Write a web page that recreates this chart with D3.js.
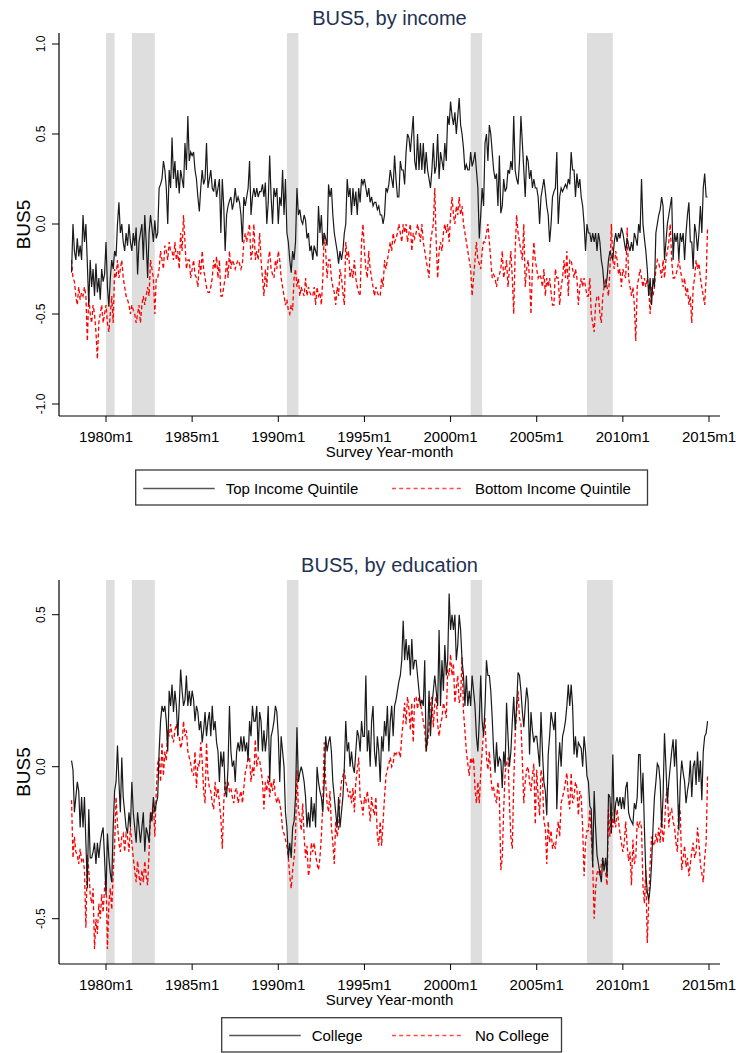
<!DOCTYPE html>
<html>
<head>
<meta charset="utf-8">
<script src="https://cdn.jsdelivr.net/npm/d3@7"></script>
<style>
  body { margin: 0; background: #fff; }
  svg text { font-family: "Liberation Sans", Arial, sans-serif; }
</style>
</head>
<body>
<svg id="chart" width="739" height="1053"></svg>
<script>
// monthly series, 1978m1 .. 2014m12 (one row per year)
const START_YEAR = 1978;

const topIncome = [
  -0.27, 0.00, -0.15, -0.20, -0.08, -0.18, -0.12, -0.20, 0.05, -0.10, 0.00, -0.22,
  -0.45, -0.20, -0.35, -0.25, -0.40, -0.22, -0.38, -0.30, -0.42, -0.25, -0.32, -0.28,
  -0.10, -0.35, -0.46, -0.30, -0.20, -0.25, -0.15, -0.18, 0.00, 0.12, -0.05, 0.00,
  -0.10, -0.15, -0.05, -0.12, 0.00, -0.10, -0.15, -0.05, -0.12, -0.02, -0.28, -0.10,
  -0.05, 0.00, -0.20, 0.05, -0.10, -0.30, -0.05, 0.05, -0.02, -0.10, 0.02, -0.08,
  -0.05, 0.20, 0.22, 0.25, 0.35, 0.30, 0.20, 0.00, 0.30, 0.20, 0.48, 0.25,
  0.35, 0.20, 0.30, 0.17, 0.30, 0.25, 0.20, 0.45, 0.30, 0.60, 0.35, 0.40,
  0.38, 0.40, 0.30, 0.25, 0.15, 0.07, 0.20, 0.30, 0.22, 0.25, 0.45, 0.20,
  0.25, 0.30, 0.20, 0.18, 0.25, 0.15, 0.20, 0.25, -0.05, 0.25, 0.10, -0.15,
  0.05, 0.10, 0.13, 0.15, 0.08, 0.12, 0.20, 0.12, 0.15, 0.12, 0.05, -0.10,
  0.15, 0.10, 0.15, 0.20, 0.35, 0.05, 0.15, 0.20, 0.15, 0.20, 0.15, 0.18,
  0.18, 0.22, 0.15, 0.23, 0.00, 0.12, 0.38, 0.15, 0.00, 0.20, 0.15, 0.20,
  0.00, 0.15, 0.10, 0.30, 0.05, 0.25, -0.05, -0.10, -0.20, -0.27, -0.15, -0.20,
  -0.10, 0.20, 0.05, 0.08, 0.02, 0.00, 0.05, 0.02, -0.08, -0.05, -0.15, -0.12,
  -0.20, -0.12, -0.15, -0.18, 0.10, -0.05, 0.05, -0.12, -0.05, -0.08, -0.12, 0.22,
  0.15, 0.20, 0.05, -0.05, -0.10, -0.15, -0.22, -0.15, -0.20, -0.15, -0.05, 0.00,
  0.25, 0.15, 0.20, 0.05, 0.20, 0.10, 0.18, 0.05, 0.20, 0.12, 0.25, 0.22,
  0.25, 0.20, 0.15, 0.20, 0.12, 0.15, 0.10, 0.12, 0.12, 0.08, 0.10, 0.05,
  0.05, 0.00, 0.05, 0.20, 0.18, 0.22, 0.30, 0.25, 0.20, 0.38, 0.25, 0.15,
  0.15, 0.35, 0.30, 0.30, 0.22, 0.40, 0.50, 0.48, 0.40, 0.50, 0.60, 0.35,
  0.30, 0.50, 0.30, 0.45, 0.30, 0.45, 0.28, 0.40, 0.30, 0.25, 0.20, 0.30,
  0.45, 0.28, 0.32, 0.50, 0.25, 0.40, 0.35, 0.30, 0.45, 0.35, 0.60, 0.55,
  0.68, 0.60, 0.55, 0.62, 0.50, 0.60, 0.70, 0.55, 0.50, 0.42, 0.30, 0.33,
  0.30, 0.30, 0.40, 0.32, 0.35, 0.40, 0.30, 0.20, -0.08, 0.05, 0.20, 0.10,
  0.45, 0.50, 0.35, 0.55, 0.50, 0.40, 0.30, 0.25, 0.28, 0.10, 0.38, 0.06,
  0.10, 0.25, 0.18, 0.20, 0.30, 0.28, 0.35, 0.30, 0.60, 0.30, 0.25, 0.22,
  0.35, 0.60, 0.45, 0.30, 0.15, 0.38, 0.35, 0.25, 0.30, 0.20, 0.25, 0.20,
  0.20, 0.15, 0.00, 0.15, 0.20, 0.25, 0.18, 0.10, 0.05, -0.10, 0.00, 0.15,
  0.18, 0.20, 0.40, 0.00, 0.15, 0.20, 0.18, 0.20, 0.22, 0.20, 0.25, 0.22,
  0.40, 0.30, 0.30, 0.15, 0.28, 0.20, 0.25, 0.15, 0.10, 0.00, -0.15, 0.00,
  -0.05, -0.05, -0.10, -0.05, -0.10, -0.05, -0.15, -0.05, -0.10, -0.20, -0.25, -0.35,
  -0.35, -0.30, -0.20, -0.15, -0.18, -0.20, -0.10, -0.05, -0.10, -0.05, -0.08, -0.02,
  -0.05, -0.10, -0.15, -0.08, -0.12, -0.15, -0.10, -0.15, -0.05, -0.08, -0.12, 0.00,
  -0.05, 0.25, 0.00, -0.08, -0.15, -0.25, -0.40, -0.30, -0.45, -0.30, -0.35, -0.05,
  0.00, 0.05, 0.08, 0.15, 0.10, -0.20, -0.10, 0.00, 0.05, 0.10, 0.15, -0.20,
  -0.05, -0.10, -0.05, -0.20, -0.05, -0.10, -0.05, -0.20, -0.05, 0.05, 0.12, -0.10,
  -0.10, -0.25, 0.00, -0.05, -0.15, -0.05, 0.10, -0.05, 0.20, 0.28, 0.15, 0.15
];

const bottomIncome = [
  -0.20, -0.30, -0.32, -0.40, -0.45, -0.35, -0.42, -0.38, -0.40, -0.35, -0.40, -0.65,
  -0.40, -0.50, -0.55, -0.45, -0.50, -0.60, -0.75, -0.55, -0.50, -0.45, -0.55, -0.50,
  -0.45, -0.55, -0.60, -0.50, -0.40, -0.55, -0.25, -0.30, -0.20, -0.30, -0.25, -0.20,
  -0.30, -0.35, -0.40, -0.42, -0.45, -0.50, -0.45, -0.48, -0.50, -0.55, -0.50, -0.45,
  -0.55, -0.45, -0.40, -0.45, -0.40, -0.35, -0.40, -0.20, -0.25, -0.30, -0.50, -0.30,
  -0.30, -0.25, -0.15, -0.20, -0.25, -0.12, -0.15, -0.20, -0.10, -0.15, -0.15, -0.20,
  -0.10, -0.20, -0.15, -0.25, -0.05, -0.15, 0.05, -0.10, -0.25, -0.20, -0.20, -0.30,
  -0.25, -0.20, -0.28, -0.30, -0.35, -0.20, -0.28, -0.15, -0.25, -0.30, -0.35, -0.38,
  -0.38, -0.35, -0.30, -0.20, -0.25, -0.18, -0.30, -0.20, -0.40, -0.40, -0.35, -0.30,
  -0.20, -0.30, -0.15, -0.25, -0.20, -0.22, -0.25, -0.22, -0.20, -0.22, -0.25, -0.22,
  -0.10, -0.05, -0.10, -0.05, 0.00, -0.20, -0.15, 0.00, -0.20, -0.15, -0.20, -0.05,
  -0.20, -0.30, -0.40, -0.25, -0.35, -0.20, -0.15, -0.25, -0.28, -0.30, -0.20, -0.25,
  -0.15, -0.20, -0.30, -0.35, -0.40, -0.45, -0.42, -0.48, -0.50, -0.45, -0.48, -0.30,
  -0.25, -0.35, -0.30, -0.40, -0.35, -0.38, -0.40, -0.30, -0.40, -0.35, -0.38, -0.40,
  -0.40, -0.35, -0.45, -0.35, -0.40, -0.38, -0.45, -0.30, -0.05, -0.15, -0.30, -0.20,
  -0.20, -0.30, -0.35, -0.38, -0.45, -0.35, -0.40, -0.25, -0.30, -0.38, -0.45, -0.10,
  -0.20, -0.15, -0.30, -0.25, -0.30, -0.20, -0.30, -0.35, -0.38, -0.40, -0.10, 0.00,
  -0.15, -0.25, -0.30, -0.15, -0.25, -0.30, -0.35, -0.40, -0.35, -0.38, -0.40, -0.40,
  -0.30, -0.35, -0.20, -0.25, -0.20, -0.15, -0.10, -0.15, -0.05, -0.10, -0.08, -0.05,
  0.00, -0.05, -0.10, 0.00, -0.05, 0.00, -0.10, -0.05, 0.00, -0.15, -0.05, -0.08,
  -0.05, 0.00, -0.05, -0.10, 0.00, -0.10, -0.15, -0.20, -0.25, -0.30, -0.10, -0.05,
  0.00, 0.20, -0.10, -0.30, -0.15, -0.10, -0.15, -0.05, 0.00, -0.05, 0.00, -0.10,
  0.05, 0.15, 0.05, 0.00, 0.10, 0.05, 0.15, 0.05, 0.10, 0.00, -0.05, -0.10,
  -0.15, -0.20, -0.25, -0.40, -0.30, -0.20, -0.10, -0.20, -0.22, -0.25, -0.15, -0.10,
  -0.10, -0.05, 0.00, -0.10, -0.20, -0.30, -0.28, -0.30, -0.35, -0.30, -0.28, -0.25,
  -0.15, -0.30, -0.25, -0.20, -0.35, -0.25, -0.15, -0.30, -0.50, -0.15, 0.05, -0.05,
  -0.10, -0.15, -0.20, 0.00, -0.35, -0.25, -0.20, -0.30, -0.50, -0.25, -0.10, -0.20,
  -0.25, -0.30, -0.28, -0.30, -0.35, -0.25, -0.40, -0.30, -0.35, -0.30, -0.38, -0.45,
  -0.45, -0.25, -0.30, -0.30, -0.45, -0.35, -0.30, -0.20, -0.30, -0.15, -0.40, -0.20,
  -0.20, -0.25, -0.30, -0.25, -0.30, -0.45, -0.35, -0.30, -0.35, -0.30, -0.35, -0.40,
  -0.40, -0.30, -0.50, -0.55, -0.60, -0.45, -0.40, -0.40, -0.50, -0.55, -0.40, -0.35,
  -0.30, -0.35, -0.40, -0.25, 0.00, -0.20, -0.25, -0.15, -0.20, -0.28, -0.25, -0.35,
  -0.25, -0.28, -0.30, -0.02, -0.30, -0.35, -0.40, -0.35, -0.45, -0.65, -0.35, -0.30,
  -0.25, -0.30, -0.35, -0.30, -0.35, -0.30, -0.35, -0.50, -0.35, -0.40, -0.35, -0.25,
  -0.20, -0.22, -0.25, -0.30, -0.20, -0.30, -0.20, -0.15, -0.10, 0.00, -0.20, -0.30,
  -0.30, -0.28, -0.25, -0.20, -0.25, -0.30, -0.35, -0.30, -0.40, -0.35, -0.45, -0.40,
  -0.55, -0.35, -0.30, -0.20, -0.25, -0.22, -0.30, -0.35, -0.40, -0.45, -0.30, -0.02
];

const college = [
  0.02, -0.01, -0.15, -0.10, -0.05, -0.08, -0.20, -0.10, -0.20, -0.10, -0.25, -0.40,
  -0.14, -0.30, -0.30, -0.28, -0.25, -0.32, -0.25, -0.30, -0.25, -0.22, -0.20, -0.30,
  -0.42, -0.22, -0.30, -0.35, -0.38, -0.20, -0.08, -0.05, 0.07, -0.05, -0.15, 0.03,
  -0.10, -0.15, -0.20, -0.22, -0.15, -0.20, -0.05, -0.15, -0.20, -0.25, -0.15, -0.20,
  -0.25, -0.20, -0.15, -0.28, -0.20, -0.22, -0.25, -0.15, -0.18, -0.10, -0.15, -0.12,
  -0.10, 0.05, 0.15, 0.20, 0.18, 0.20, 0.15, 0.05, 0.25, 0.20, 0.27, 0.18,
  0.25, 0.20, 0.10, 0.20, 0.32, 0.25, 0.20, 0.22, 0.30, 0.20, 0.25, 0.20,
  0.25, 0.22, 0.15, 0.20, 0.18, 0.12, 0.15, 0.08, 0.12, 0.18, 0.10, 0.15,
  0.18, 0.10, 0.20, 0.12, 0.15, 0.08, 0.05, -0.05, 0.05, 0.00, 0.05, -0.08,
  -0.10, 0.00, 0.20, 0.05, 0.00, 0.02, -0.05, 0.05, 0.08, 0.05, 0.10, 0.05,
  0.10, 0.05, 0.08, 0.02, 0.15, 0.10, 0.20, 0.15, 0.15, 0.20, 0.05, 0.18,
  0.15, 0.05, 0.12, 0.05, 0.10, 0.20, -0.05, 0.10, 0.12, 0.15, 0.20, 0.18,
  0.10, -0.05, 0.10, 0.05, 0.00, -0.15, -0.20, -0.30, -0.25, -0.30, -0.20, -0.18,
  -0.10, 0.13, -0.05, -0.02, 0.00, -0.02, -0.05, -0.10, -0.20, -0.15, -0.20, -0.10,
  -0.18, -0.12, -0.20, 0.00, -0.05, -0.08, -0.10, -0.15, -0.05, 0.10, 0.05, 0.08,
  0.10, 0.05, -0.05, -0.10, -0.15, -0.20, -0.10, -0.20, -0.15, -0.10, 0.00, 0.15,
  0.05, 0.08, 0.00, 0.05, 0.00, -0.02, 0.05, 0.12, 0.10, 0.05, 0.15, 0.10,
  0.10, 0.30, 0.05, 0.12, 0.00, 0.15, 0.20, 0.05, 0.00, 0.10, 0.05, -0.05,
  0.10, 0.05, 0.15, 0.10, 0.20, 0.05, 0.15, 0.20, 0.10, 0.20, 0.22, 0.25,
  0.28, 0.30, 0.35, 0.48, 0.35, 0.42, 0.35, 0.40, 0.30, 0.42, 0.32, 0.35,
  0.35, 0.30, 0.25, 0.20, 0.22, 0.20, 0.35, 0.05, 0.10, 0.25, 0.10, 0.20,
  0.25, 0.30, 0.25, 0.20, 0.45, 0.20, 0.35, 0.25, 0.40, 0.30, 0.35, 0.57,
  0.45, 0.50, 0.45, 0.50, 0.35, 0.40, 0.50, 0.45, 0.35, 0.30, 0.20, 0.30,
  0.20, 0.25, 0.20, 0.30, 0.25, 0.20, 0.10, 0.05, 0.15, 0.30, 0.15, 0.10,
  0.20, 0.35, 0.30, 0.30, 0.25, 0.16, 0.05, -0.02, 0.08, 0.00, 0.03, 0.02,
  -0.07, 0.05, 0.00, 0.21, 0.10, 0.00, 0.05, 0.15, 0.23, 0.12, 0.20, 0.31,
  0.30, 0.25, 0.18, 0.13, 0.20, 0.26, 0.22, 0.04, 0.18, 0.12, 0.08, 0.10,
  0.10, 0.05, 0.00, 0.18, 0.05, -0.05, -0.08, -0.16, 0.04, 0.10, 0.18, 0.15,
  0.12, 0.18, -0.14, 0.00, 0.08, 0.00, 0.10, 0.12, 0.15, 0.20, 0.27, 0.20,
  0.27, 0.20, 0.04, 0.10, 0.03, 0.08, 0.07, 0.06, 0.00, 0.10, 0.05, -0.03,
  -0.05, -0.13, -0.14, -0.33, -0.08, -0.20, -0.29, -0.32, -0.35, -0.38, -0.30, -0.34,
  -0.30, -0.36, -0.09, -0.10, -0.22, 0.04, -0.18, -0.12, -0.10, -0.13, -0.10, -0.14,
  -0.10, -0.14, -0.07, -0.05, -0.15, -0.17, -0.18, -0.19, -0.12, -0.14, -0.10, 0.04,
  0.04, -0.12, -0.02, -0.20, -0.35, -0.41, -0.44, -0.40, -0.32, -0.20, -0.10, -0.05,
  0.01, 0.00, -0.05, -0.20, -0.10, 0.11, 0.00, -0.12, -0.05, 0.00, 0.05, 0.09,
  0.00, 0.09, -0.06, -0.21, -0.05, 0.02, -0.02, -0.05, -0.12, -0.08, -0.05, 0.02,
  -0.10, 0.00, 0.02, -0.06, 0.05, -0.05, 0.02, -0.11, 0.05, 0.10, 0.11, 0.15
];

const noCollege = [
  -0.11, -0.30, -0.23, -0.28, -0.29, -0.32, -0.27, -0.31, -0.30, -0.34, -0.53, -0.29,
  -0.34, -0.42, -0.45, -0.40, -0.60, -0.50, -0.55, -0.45, -0.50, -0.42, -0.48, -0.40,
  -0.36, -0.60, -0.45, -0.40, -0.47, -0.35, -0.26, -0.10, -0.19, -0.25, -0.28, -0.23,
  -0.22, -0.28, -0.22, -0.23, -0.28, -0.20, -0.25, -0.30, -0.34, -0.38, -0.31, -0.36,
  -0.39, -0.34, -0.38, -0.31, -0.36, -0.39, -0.28, -0.16, -0.15, -0.12, -0.23, -0.08,
  0.01, 0.03, -0.05, 0.08, -0.03, 0.05, 0.02, 0.12, 0.10, 0.14, 0.10, 0.08,
  0.12, 0.14, 0.11, 0.10, 0.06, 0.08, 0.15, 0.10, 0.12, 0.05, 0.03, 0.01,
  -0.02, -0.03, 0.05, -0.07, 0.01, 0.00, 0.08, 0.02, -0.08, -0.12, 0.08, -0.03,
  -0.07, -0.08, -0.12, -0.14, -0.05, -0.10, -0.07, -0.12, -0.17, -0.27, -0.12, -0.05,
  -0.08, -0.05, -0.08, -0.07, -0.10, -0.12, -0.08, -0.07, -0.12, -0.10, -0.08, -0.12,
  -0.07, -0.02, 0.00, 0.03, 0.03, -0.05, 0.00, -0.03, 0.09, 0.00, 0.03, 0.02,
  -0.01, -0.05, -0.14, -0.05, -0.08, -0.03, -0.10, -0.05, -0.08, -0.04, -0.10, -0.12,
  -0.10, -0.12, -0.15, -0.21, -0.22, -0.24, -0.26, -0.30, -0.36, -0.40, -0.34, -0.30,
  -0.23, -0.01, -0.14, -0.17, -0.21, -0.12, -0.23, -0.30, -0.26, -0.36, -0.33, -0.25,
  -0.28, -0.25, -0.29, -0.32, -0.34, -0.30, -0.23, -0.12, 0.08, -0.05, -0.12, -0.15,
  -0.08, -0.20, -0.25, -0.32, -0.18, -0.23, -0.20, -0.10, -0.05, -0.03, -0.01, -0.05,
  -0.07, -0.10, -0.08, -0.12, -0.07, -0.15, -0.05, -0.01, 0.03, -0.10, -0.12, -0.16,
  -0.10, -0.12, -0.08, -0.12, -0.18, -0.10, -0.14, -0.16, -0.10, -0.23, -0.26, -0.18,
  -0.26, -0.18, -0.10, -0.03, -0.01, 0.01, 0.03, 0.00, 0.01, 0.05, 0.04, 0.05,
  0.05, 0.03, 0.10, 0.15, 0.21, 0.14, 0.23, 0.19, 0.12, 0.21, 0.08, 0.23,
  0.23, 0.19, 0.23, 0.21, 0.18, 0.15, 0.12, 0.05, 0.08, 0.13, 0.21, 0.23,
  0.13, 0.21, 0.23, 0.14, 0.10, 0.14, 0.16, 0.21, 0.19, 0.16, 0.32, 0.30,
  0.37, 0.30, 0.34, 0.21, 0.26, 0.30, 0.21, 0.23, 0.36, 0.18, 0.12, 0.05,
  0.01, -0.03, 0.03, 0.01, 0.03, -0.07, -0.12, -0.05, -0.12, -0.02, 0.05, 0.12,
  0.16, 0.03, -0.01, 0.05, -0.03, -0.08, -0.07, -0.10, -0.12, -0.05, -0.10, -0.34,
  -0.30, -0.14, -0.02, 0.01, 0.03, -0.12, -0.23, -0.27, -0.05, 0.10, 0.18, 0.25,
  0.16, 0.14, 0.02, -0.12, -0.05, -0.01, 0.00, -0.05, -0.08, -0.03, 0.01, -0.19,
  -0.01, -0.10, -0.16, -0.01, -0.04, -0.18, -0.20, -0.32, -0.18, -0.25, -0.21, -0.27,
  -0.25, -0.27, -0.22, -0.18, -0.23, -0.12, -0.10, -0.08, -0.05, -0.02, -0.10, -0.14,
  -0.02, -0.12, -0.10, -0.05, -0.07, -0.16, -0.08, -0.10, -0.20, -0.36, -0.25, -0.21,
  -0.21, -0.14, -0.23, -0.32, -0.50, -0.40, -0.35, -0.34, -0.36, -0.32, -0.30, -0.35,
  -0.35, -0.39, -0.14, -0.23, -0.12, -0.20, -0.17, -0.20, -0.14, -0.18, -0.22, -0.25,
  -0.28, -0.25, -0.18, -0.26, -0.31, -0.28, -0.39, -0.24, -0.32, -0.30, -0.18, -0.20,
  -0.18, -0.20, -0.39, -0.45, -0.34, -0.58, -0.45, -0.32, -0.23, -0.25, -0.26, -0.22,
  -0.25, -0.20, -0.25, -0.16, -0.25, -0.20, -0.10, -0.07, -0.20, -0.15, -0.14, -0.18,
  -0.20, -0.25, -0.28, -0.12, -0.15, -0.34, -0.30, -0.26, -0.33, -0.30, -0.36, -0.32,
  -0.28, -0.25, -0.30, -0.28, -0.20, -0.25, -0.32, -0.35, -0.38, -0.30, -0.25, -0.03
];

// NBER recessions, "year-month"
const recessionStart = ["1980-1", "1981-7", "1990-7", "2001-3", "2007-12"];
const recessionEnd   = ["1980-7", "1982-11", "1991-3", "2001-11", "2009-6"];

const xTickYears = [1980, 1985, 1990, 1995, 2000, 2005, 2010, 2015];

const SVG_WIDTH = 739;
const AXIS_LEFT = 59;
const AXIS_RIGHT = 720;
const BLACK = "#1a1a1a";
const RED = "#ff0000";
const SHADE = "#dedede";
const TITLE_COLOR = "#233152";

const PANELS = [
  {
    title: "BUS5, by income", titleY: 25,
    top: 33, bottom: 416,
    yDomain: [-1, 1], yRange: [404, 44], yTicks: [-1, -0.5, 0, 0.5, 1],
    series: [topIncome, bottomIncome],
    names: ["Top Income Quintile", "Bottom Income Quintile"],
    legend: { x0: 135.7, x1: 647.5, y0: 470, y1: 505 }
  },
  {
    title: "BUS5, by education", titleY: 572,
    top: 580, bottom: 964,
    yDomain: [-0.5, 0.5], yRange: [918.7, 614.7], yTicks: [-0.5, 0, 0.5],
    series: [college, noCollege],
    names: ["College", "No College"],
    legend: { x0: 221.7, x1: 561.5, y0: 1017.7, y1: 1052 }
  }
];

const ym = s => { const [y, m] = s.split("-").map(Number); return y + (m - 1) / 12; };
const x = d3.scaleLinear().domain([1980, 2015]).range([106, 709]);
const svg = d3.select("#chart");

svg.append("rect").attr("width", SVG_WIDTH).attr("height", 1053).attr("fill", "#fff");

PANELS.forEach(drawPanel);

function drawPanel(p) {
  const y = d3.scaleLinear().domain(p.yDomain).range(p.yRange);
  const g = svg.append("g");

  // recession bands
  g.selectAll(".rec")
    .data(d3.zip(recessionStart, recessionEnd))
    .join("rect")
    .attr("x", d => x(ym(d[0])))
    .attr("width", d => x(ym(d[1])) - x(ym(d[0])))
    .attr("y", p.top)
    .attr("height", p.bottom - p.top)
    .attr("fill", SHADE);

  // series
  const line = d3.line()
    .x((d, i) => x(START_YEAR + i / 12))
    .y(d => y(d));

  g.append("path")
    .attr("d", line(p.series[1]))
    .attr("fill", "none")
    .attr("stroke", RED)
    .attr("stroke-width", 1.3)
    .attr("stroke-dasharray", "4,2.6");

  g.append("path")
    .attr("d", line(p.series[0]))
    .attr("fill", "none")
    .attr("stroke", BLACK)
    .attr("stroke-width", 1.2);

  // axes
  g.append("line")
    .attr("x1", AXIS_LEFT).attr("x2", AXIS_LEFT)
    .attr("y1", p.top).attr("y2", p.bottom)
    .attr("stroke", "#000").attr("stroke-width", 1.2);
  g.append("line")
    .attr("x1", AXIS_LEFT).attr("x2", AXIS_RIGHT)
    .attr("y1", p.bottom).attr("y2", p.bottom)
    .attr("stroke", "#000").attr("stroke-width", 1.2);

  // y ticks
  const yt = g.selectAll(".yt").data(p.yTicks).join("g")
    .attr("transform", d => `translate(${AXIS_LEFT},${y(d)})`);
  yt.append("line").attr("x1", -7).attr("x2", 0).attr("stroke", "#000").attr("stroke-width", 1);
  yt.append("text")
    .attr("transform", "translate(-14,0) rotate(-90)")
    .attr("text-anchor", "middle")
    .attr("font-size", 12)
    .attr("fill", "#000")
    .text(d => d.toFixed(1));

  // x ticks
  const xt = g.selectAll(".xt").data(xTickYears).join("g")
    .attr("transform", d => `translate(${x(d)},${p.bottom})`);
  xt.append("line").attr("y1", 0).attr("y2", 6).attr("stroke", "#000").attr("stroke-width", 1);
  xt.append("text")
    .attr("y", 26)
    .attr("text-anchor", "middle")
    .attr("font-size", 15)
    .attr("fill", "#000")
    .text(d => d + "m1");

  g.append("text")
    .attr("x", (AXIS_LEFT + AXIS_RIGHT) / 2)
    .attr("y", p.bottom + 41)
    .attr("text-anchor", "middle")
    .attr("font-size", 15)
    .text("Survey Year-month");

  // y title
  g.append("text")
    .attr("transform", `translate(30,${(p.top + p.bottom) / 2}) rotate(-90)`)
    .attr("text-anchor", "middle")
    .attr("font-size", 19)
    .text("BUS5");

  // title
  g.append("text")
    .attr("x", (AXIS_LEFT + AXIS_RIGHT) / 2)
    .attr("y", p.titleY)
    .attr("text-anchor", "middle")
    .attr("font-size", 20)
    .attr("fill", TITLE_COLOR)
    .text(p.title);

  drawLegend(g, p);
}

function drawLegend(g, p) {
  const L = p.legend;
  const mid = Math.round((L.y0 + L.y1) / 2) + 0.5;
  g.append("rect")
    .attr("x", L.x0).attr("y", L.y0)
    .attr("width", L.x1 - L.x0).attr("height", L.y1 - L.y0)
    .attr("fill", "#fff").attr("stroke", "#3a3a3a").attr("stroke-width", 1.3);

  const keys = [
    { x1: L.x0 + 7.5, x2: L.x0 + 79, tx: L.x0 + 90, color: "#555", dash: null, name: p.names[0] },
    { x1: 392, x2: 462, tx: 475, color: "#ff4a4a", dash: "4,3.2", name: p.names[1] }
  ];
  keys.forEach(k => {
    g.append("line")
      .attr("x1", k.x1).attr("x2", k.x2)
      .attr("y1", mid).attr("y2", mid)
      .attr("stroke", k.color).attr("stroke-width", 1.3)
      .attr("stroke-dasharray", k.dash);
    g.append("text")
      .attr("x", k.tx).attr("y", mid + 5.5)
      .attr("font-size", 15)
      .text(k.name);
  });
}
</script>
</body>
</html>
